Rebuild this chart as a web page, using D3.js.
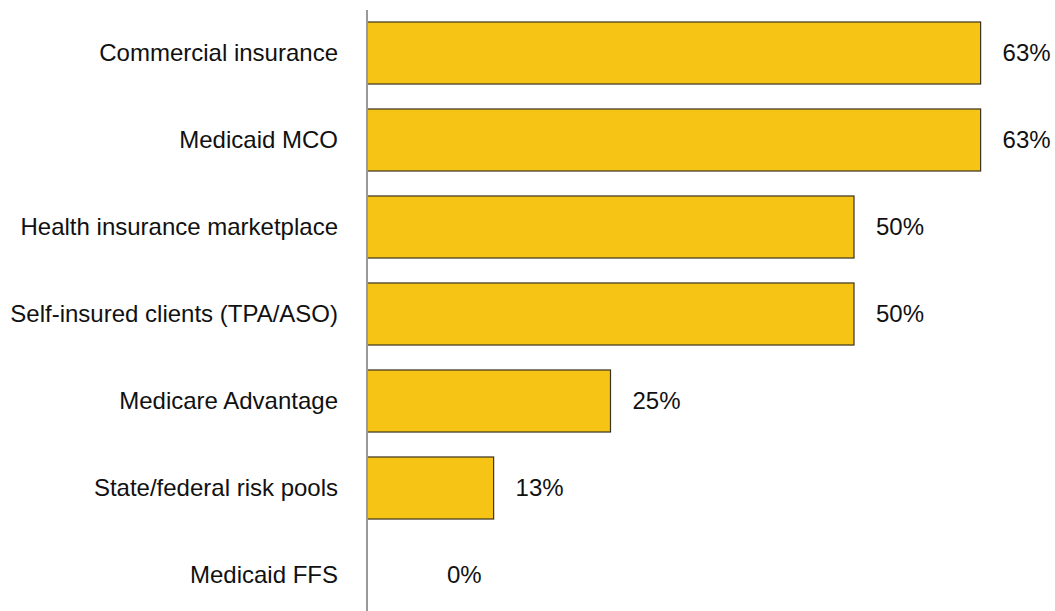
<!DOCTYPE html>
<html lang="en">
<head>
    <meta charset="UTF-8">
    <title>Payer types</title>
    <script src="https://d3js.org/d3.v7.min.js"></script>
    <style>
        body { margin: 0; background: #fff; font-family: Arial, "Liberation Sans", sans-serif; }
        svg text { fill: #111; }
    </style>
</head>
<body>
    <svg id="chart" width="1055" height="611"></svg>
    <script>
        const categories = [
            "Commercial insurance",
            "Medicaid MCO",
            "Health insurance marketplace",
            "Self-insured clients (TPA/ASO)",
            "Medicare Advantage",
            "State/federal risk pools",
            "Medicaid FFS"
        ];
        const values = [63, 63, 50, 50, 25, 13, 0];

        const svg = d3.select("#chart");
        const axisX = 367;

        const x = d3.scaleLinear().domain([0, 50]).range([axisX, axisX + 487]);
        const y = d3.scaleBand()
            .domain(categories)
            .range([9.5, 9.5 + 87 * categories.length])
            .paddingInner(0.287)
            .paddingOuter(0.1435);

        const data = categories.map((c, i) => ({ cat: c, val: values[i] }));

        // bars
        svg.selectAll("rect.bar")
            .data(data.filter(d => d.val > 0))
            .enter().append("rect")
            .attr("class", "bar")
            .attr("x", x(0))
            .attr("y", d => y(d.cat))
            .attr("width", d => x(d.val) - x(0))
            .attr("height", y.bandwidth())
            .attr("fill", "#F6C414")
            .attr("stroke", "#3a3320")
            .attr("stroke-width", 1.2);

        // category labels
        svg.selectAll("text.cat")
            .data(data)
            .enter().append("text")
            .attr("class", "cat")
            .attr("x", 338)
            .attr("y", d => y(d.cat) + y.bandwidth() / 2)
            .attr("dy", "0.35em")
            .attr("text-anchor", "end")
            .style("font-size", "24px")
            .text(d => d.cat);

        // value labels
        svg.selectAll("text.val")
            .data(data)
            .enter().append("text")
            .attr("class", "val")
            .attr("x", d => d.val === 0 ? x(0) + 80 : x(d.val) + 22)
            .attr("y", d => y(d.cat) + y.bandwidth() / 2)
            .attr("dy", "0.35em")
            .style("font-size", "24px")
            .text(d => d.val + "%");

        // vertical axis line
        svg.append("line")
            .attr("x1", axisX).attr("x2", axisX)
            .attr("y1", 10).attr("y2", 611)
            .attr("stroke", "#999")
            .attr("stroke-width", 2);
    </script>
</body>
</html>
